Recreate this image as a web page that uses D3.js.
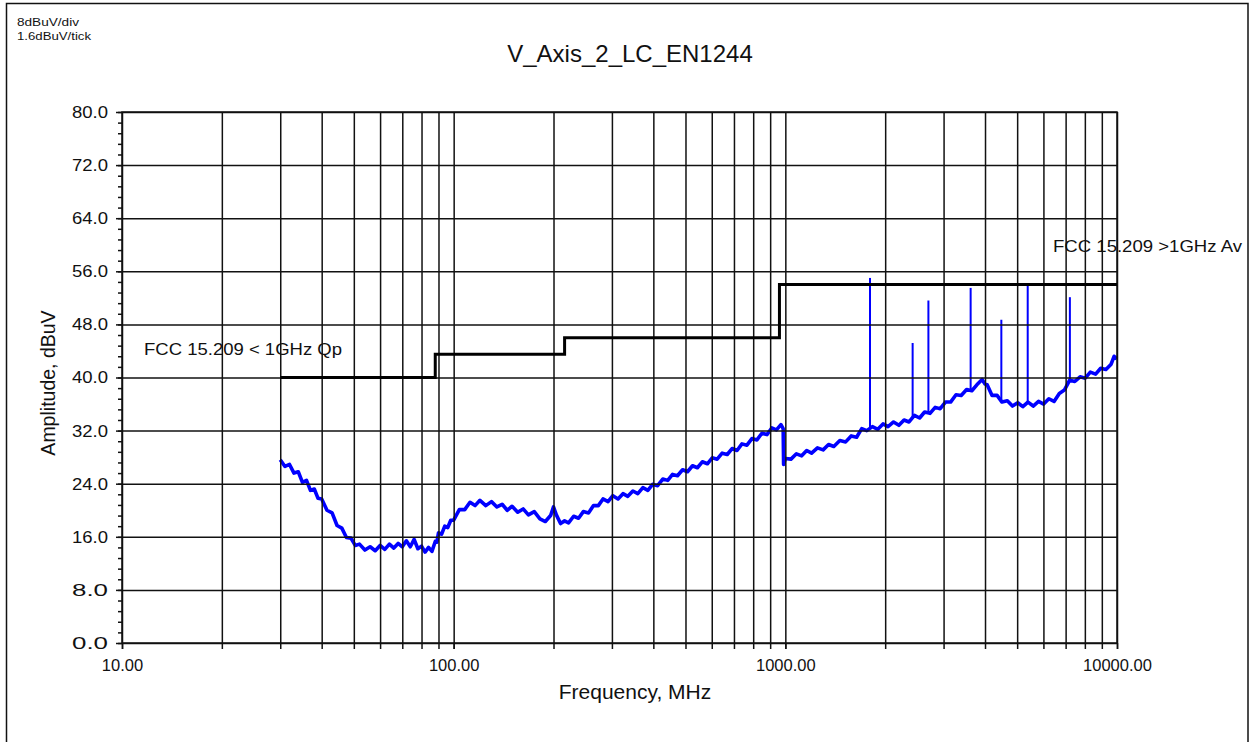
<!DOCTYPE html>
<html>
<head>
<meta charset="utf-8">
<script src="https://cdn.jsdelivr.net/npm/d3@7"></script>
<style>
  body { margin: 0; background: #fff; }
  text { font-family: "Liberation Sans", Arial, sans-serif; fill: #111; }
</style>
</head>
<body>
<div id="my_dataviz"></div>
<script>
// measured trace, frequency in MHz
const traceFreq = [
    30, 31, 32, 33, 34, 35, 36, 37, 38, 39, 40, 41.5, 43, 44.5, 46, 47.5, 49, 50.5, 52, 54,
    56, 58, 60, 62, 64, 66, 68, 70, 72, 74, 76, 78, 80, 82, 84, 86, 88, 89, 90, 92, 94, 96, 98,
    100, 104, 108, 112, 116, 120, 125, 130, 135, 140, 145, 150, 156, 162, 168, 175, 182, 189, 196, 200,
    204, 210, 216, 222, 230, 238, 246, 255, 264, 273, 282, 292, 302, 313, 324, 335, 347, 359, 372, 385,
    398, 412, 427, 442, 457, 473, 490, 507, 525, 543, 562, 582, 602, 623, 645, 668, 691, 715, 740, 766,
    793, 821, 850, 880, 910, 940, 970, 985,
    988, 1000, 1040, 1080, 1120, 1160, 1200, 1250, 1300, 1350, 1400, 1460, 1520, 1580, 1640, 1700, 1760, 1830, 1900, 1970,
    2040, 2120, 2200, 2280, 2360, 2450, 2540, 2630, 2730, 2830, 2930, 3040, 3150, 3270, 3390, 3520, 3650, 3780, 3920, 4000,
    4060, 4200, 4350, 4500, 4670, 4840, 5020, 5200, 5390, 5590, 5800, 6010, 6230, 6460, 6700, 6940, 7200, 7460, 7740, 8020,
    8310, 8620, 8930, 9260, 9600, 9800, 10000
];
// amplitude, dBuV
const traceLevel = [
    27.6, 26.6, 26.9, 25.6, 25.8, 24.2, 24.5, 23.0, 23.2, 21.8, 21.7, 20.0, 19.6, 17.7, 17.3, 15.9, 15.8, 14.7, 14.9, 14.0,
    14.5, 13.9, 14.7, 14.1, 14.9, 14.3, 15.0, 14.5, 15.4, 14.5, 15.6, 14.2, 14.6, 13.7, 14.4, 13.8, 15.3, 15.2, 16.6, 16.4, 17.6, 17.4, 18.5,
    18.5, 20.1, 20.1, 21.2, 20.7, 21.5, 20.7, 21.3, 20.5, 20.9, 20.0, 20.6, 19.7, 20.2, 19.3, 19.8, 18.7, 18.3, 19.2, 20.5,
    19.3, 18.0, 18.4, 18.1, 19.1, 18.8, 19.8, 19.6, 20.7, 20.7, 21.7, 21.3, 22.2, 21.7, 22.5, 22.1, 22.9, 22.5, 23.4, 23.0,
    23.9, 23.7, 24.7, 24.5, 25.4, 25.2, 26.1, 25.8, 26.7, 26.4, 27.3, 27.0, 27.9, 27.7, 28.6, 28.4, 29.3, 29.0, 30.0, 29.8,
    30.8, 30.6, 31.6, 31.4, 32.4, 32.1, 32.9, 32.3,
    26.9, 27.8, 27.7, 28.5, 28.2, 29.0, 28.6, 29.4, 29.1, 29.9, 29.6, 30.5, 30.3, 31.2, 31.0, 32.3, 32.0, 32.6, 32.2, 33.0,
    32.6, 33.3, 32.8, 33.6, 33.3, 34.3, 33.9, 34.8, 34.6, 35.5, 35.3, 36.3, 36.3, 37.4, 37.3, 38.2, 38.0, 38.9, 39.7, 39.0,
    38.9, 37.3, 37.3, 36.3, 36.5, 35.7, 36.2, 35.6, 36.3, 35.7, 36.4, 36.0, 36.8, 36.4, 37.6, 38.1, 39.6, 39.4, 40.1, 39.9,
    40.8, 40.5, 41.4, 41.2, 42.0, 43.2, 42.8
];

// narrow emissions above the noise floor
const spikeFreq = [1800, 2420, 2700, 3620, 4480, 5380, 7210];
const spikeBase = [32.4, 33.8, 34.6, 38.0, 36.5, 36.0, 39.4];
const spikeTop = [55.0, 45.2, 51.6, 53.5, 48.7, 53.8, 52.1];

// FCC 15.209 limit (step after each frequency)
const limitFreq = [30, 88, 216, 960, 10000];
const limitLevel = [40, 43.5, 46, 54, 54];

const xTickValues = [10, 100, 1000, 10000];
const yTickValues = [0, 8, 16, 24, 32, 40, 48, 56, 64, 72, 80];

const margin = { top: 112, right: 134, bottom: 99, left: 122 },
    width = 1251 - margin.left - margin.right,
    height = 742 - margin.top - margin.bottom;

const root = d3.select("#my_dataviz")
    .append("svg")
    .attr("width", 1251)
    .attr("height", 742);

// outer frame
root.append("rect")
    .attr("x", 6.5).attr("y", 3.5)
    .attr("width", 1241.5).attr("height", 800)
    .attr("fill", "none").attr("stroke", "#111").attr("stroke-width", 1.5);

root.append("text").attr("x", 17).attr("y", 26)
    .style("font-size", "11px").attr("textLength", 62).attr("lengthAdjust", "spacingAndGlyphs")
    .text("8dBuV/div");
root.append("text").attr("x", 17).attr("y", 40)
    .style("font-size", "11px").attr("textLength", 74).attr("lengthAdjust", "spacingAndGlyphs")
    .text("1.6dBuV/tick");

root.append("text")
    .attr("x", 630).attr("y", 62)
    .attr("text-anchor", "middle")
    .style("font-size", "24px")
    .text("V_Axis_2_LC_EN1244");

const svg = root.append("g")
    .attr("transform", `translate(${margin.left}, ${margin.top})`);

const x = d3.scaleLog().domain([10, 10000]).range([0, width]);
const y = d3.scaleLinear().domain([0, 80]).range([height, 0]);

// trace
const traceData = traceFreq.map((f, i) => ({ f: f, v: traceLevel[i] }));
svg.append("path")
    .datum(traceData)
    .attr("fill", "none")
    .attr("stroke", "#0000ff")
    .attr("stroke-width", 3.6)
    .attr("stroke-linejoin", "round")
    .attr("d", d3.line().x(d => x(d.f)).y(d => y(d.v)));

svg.selectAll("spike")
    .data(spikeFreq)
    .join("line")
    .attr("x1", d => x(d)).attr("x2", d => x(d))
    .attr("y1", (d, i) => y(spikeBase[i]))
    .attr("y2", (d, i) => y(spikeTop[i]))
    .attr("stroke", "#0000ff")
    .attr("stroke-width", 2);

// grid
svg.append("g")
    .attr("transform", `translate(0, ${height})`)
    .call(d3.axisBottom(x).tickSize(-height).tickFormat("").tickSizeOuter(0))
    .call(g => g.select(".domain").remove())
    .selectAll("line").attr("stroke", "#111").attr("stroke-width", 1.5);
svg.append("g")
    .call(d3.axisLeft(y).tickValues(yTickValues).tickSize(-width).tickFormat("").tickSizeOuter(0))
    .call(g => g.select(".domain").remove())
    .selectAll("line").attr("stroke", "#111").attr("stroke-width", 1.5);

svg.append("rect")
    .attr("width", width).attr("height", height)
    .attr("fill", "none").attr("stroke", "#111").attr("stroke-width", 1.5);

// limit line
const limitData = limitFreq.map((f, i) => ({ f: f, v: limitLevel[i] }));
svg.append("path")
    .datum(limitData)
    .attr("fill", "none")
    .attr("stroke", "#000")
    .attr("stroke-width", 3)
    .attr("d", d3.line().curve(d3.curveStepAfter).x(d => x(d.f)).y(d => y(d.v)));

svg.append("text")
    .attr("x", 144 - margin.left).attr("y", 355 - margin.top)
    .style("font-size", "16px").attr("textLength", 198).attr("lengthAdjust", "spacingAndGlyphs")
    .text("FCC 15.209 < 1GHz Qp");
svg.append("text")
    .attr("x", 1053 - margin.left).attr("y", 252 - margin.top)
    .style("font-size", "16px").attr("textLength", 189).attr("lengthAdjust", "spacingAndGlyphs")
    .text("FCC 15.209 >1GHz Av");

// Y axis
svg.append("g")
    .call(d3.axisLeft(y).tickValues(d3.range(0, 80.01, 1.6)).tickSize(4).tickFormat("").tickSizeOuter(0))
    .call(g => g.select(".domain").remove())
    .selectAll("line").attr("stroke", "#111").attr("stroke-width", 1.5);
svg.append("g")
    .call(d3.axisLeft(y).tickValues(yTickValues).tickSize(6).tickPadding(8).tickFormat(d3.format(".1f")).tickSizeOuter(0))
    .call(g => g.select(".domain").remove())
    .call(g => g.selectAll("line").attr("stroke", "#111").attr("stroke-width", 1.5))
    .selectAll("text")
    .style("font-size", "17px")
    .attr("fill", "#222")
    .attr("textLength", 36)
    .attr("lengthAdjust", "spacingAndGlyphs");

// X axis
svg.append("g")
    .attr("transform", `translate(0, ${height})`)
    .call(d3.axisBottom(x).tickSize(6).tickFormat("").tickSizeOuter(0))
    .call(g => g.select(".domain").remove())
    .selectAll("line").attr("stroke", "#111").attr("stroke-width", 1.5);
svg.append("g")
    .attr("transform", `translate(0, ${height})`)
    .call(d3.axisBottom(x).tickValues(xTickValues).tickSize(6).tickPadding(10).tickFormat(d3.format(".2f")).tickSizeOuter(0))
    .call(g => g.select(".domain").remove())
    .call(g => g.selectAll("line").attr("stroke", "#111").attr("stroke-width", 1.5))
    .selectAll("text")
    .style("font-size", "16.5px")
    .attr("fill", "#222");

svg.append("text")
    .attr("text-anchor", "middle")
    .attr("x", 635 - margin.left)
    .attr("y", 699 - margin.top)
    .style("font-size", "21px")
    .text("Frequency, MHz");

svg.append("text")
    .attr("text-anchor", "middle")
    .attr("transform", `translate(${55 - margin.left}, ${383 - margin.top}) rotate(-90)`)
    .style("font-size", "19.5px")
    .text("Amplitude,  dBuV");
</script>
</body>
</html>
